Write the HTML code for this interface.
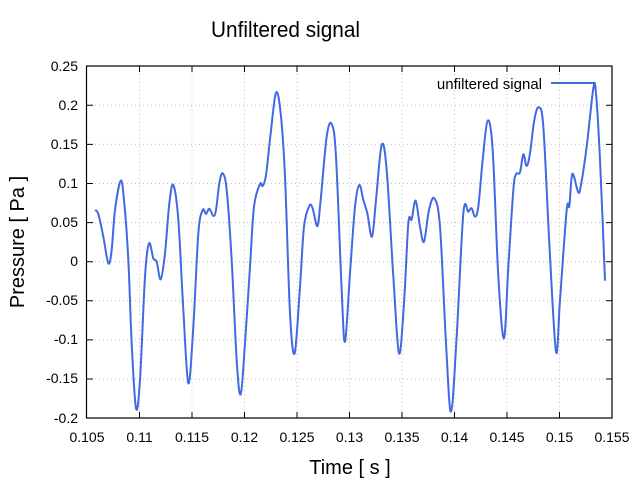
<!DOCTYPE html>
<html><head><meta charset="utf-8"><style>body{margin:0;background:#fff}svg{display:block}</style></head>
<body>
<svg width="640" height="480" xmlns="http://www.w3.org/2000/svg" font-family="Liberation Sans, DejaVu Sans, sans-serif">
<rect width="640" height="480" fill="#fff"/>
<text x="211" y="37" font-size="22" textLength="149" lengthAdjust="spacingAndGlyphs" fill="#000">Unfiltered signal</text>
<g stroke="#c0c0c0" stroke-width="1" stroke-dasharray="1,3">
<line x1="139.5" y1="66" x2="139.5" y2="418"/><line x1="192" y1="66" x2="192" y2="418"/><line x1="244.5" y1="66" x2="244.5" y2="418"/><line x1="297" y1="66" x2="297" y2="418"/><line x1="349.5" y1="66" x2="349.5" y2="418"/><line x1="402" y1="66" x2="402" y2="418"/><line x1="454.5" y1="66" x2="454.5" y2="418"/><line x1="507" y1="66" x2="507" y2="418"/><line x1="559.5" y1="66" x2="559.5" y2="418"/>
<line x1="87" y1="105.3" x2="612" y2="105.3"/><line x1="87" y1="144.4" x2="612" y2="144.4"/><line x1="87" y1="183.5" x2="612" y2="183.5"/><line x1="87" y1="222.6" x2="612" y2="222.6"/><line x1="87" y1="261.7" x2="612" y2="261.7"/><line x1="87" y1="300.8" x2="612" y2="300.8"/><line x1="87" y1="339.9" x2="612" y2="339.9"/><line x1="87" y1="379" x2="612" y2="379"/>
</g>
<g stroke="#000" stroke-width="1">
<path d="M139.5 66v6M192 66v6M244.5 66v6M297 66v6M349.5 66v6M402 66v6M454.5 66v6M507 66v6M559.5 66v6M139.5 418v-6M192 418v-6M244.5 418v-6M297 418v-6M349.5 418v-6M402 418v-6M454.5 418v-6M507 418v-6M559.5 418v-6"/>
<path d="M87 105.3h6M87 144.4h6M87 183.5h6M87 222.6h6M87 261.7h6M87 300.8h6M87 339.9h6M87 379h6M612 105.3h-6M612 144.4h-6M612 183.5h-6M612 222.6h-6M612 261.7h-6M612 300.8h-6M612 339.9h-6M612 379h-6"/>
<rect x="86.5" y="66" width="525.5" height="352" fill="none" stroke-width="1.2"/>
</g>
<g font-size="14" fill="#000" text-anchor="end">
<text x="78" y="71">0.25</text><text x="78" y="110">0.2</text><text x="78" y="149">0.15</text><text x="78" y="188">0.1</text><text x="78" y="227">0.05</text><text x="78" y="266">0</text><text x="78" y="305">-0.05</text><text x="78" y="344">-0.1</text><text x="78" y="383">-0.15</text><text x="78" y="423">-0.2</text>
</g>
<g font-size="14" fill="#000" text-anchor="middle">
<text x="87" y="442">0.105</text><text x="139.5" y="442">0.11</text><text x="192" y="442">0.115</text><text x="244.5" y="442">0.12</text><text x="297" y="442">0.125</text><text x="349.5" y="442">0.13</text><text x="402" y="442">0.135</text><text x="454.5" y="442">0.14</text><text x="507" y="442">0.145</text><text x="559.5" y="442">0.15</text><text x="612" y="442">0.155</text>
</g>
<text x="350" y="474" font-size="20" text-anchor="middle" fill="#000">Time [ s ]</text>
<text transform="translate(24,242) rotate(-90)" font-size="20" text-anchor="middle" fill="#000">Pressure [ Pa ]</text>
<text x="542" y="89" font-size="15" text-anchor="end" fill="#000">unfiltered signal</text>
<line x1="551" y1="83" x2="594" y2="83" stroke="#4169e1" stroke-width="2"/>
<path id="sig" fill="none" stroke="#4169e1" stroke-width="2" stroke-linejoin="round" d=""/>
</svg>
<script>
var a="45,450 55,462 70,530 85,610 95,570 105,450 122,362 132,420 145,600 155,850 168,1045 180,960 195,650 207,550 220,595 230,605 242,658 255,580 268,430 280,375 295,480 310,750 325,970 340,800 355,520 368,450 378,462 388,446 400,468 408,450 418,370 428,340 440,390 455,600 470,900 482,1003 495,850 510,620 522,440 540,372 548,378 558,345 572,220 588,98 602,160 615,350 630,760 644,880 660,680 672,500 688,438 698,445 712,498 722,420 740,230 755,192 768,290 785,690";
var b="15,845 30,640 45,440 58,375 70,420 82,460 96,530 108,420 125,255 140,330 160,650 177,880 192,730 205,490 215,478 227,422 240,500 252,545 267,450 283,415 300,500 318,850 333,1055 350,830 370,460 385,455 395,445 405,470 415,440 428,300 443,182 458,270 475,650 492,835 505,620 520,390 528,343 540,337 550,283 560,318 570,280 583,180 596,142 610,200 628,550 648,875 660,720 680,450 688,438 697,342 714,395 722,380 740,260 760,85 768,100 780,300 795,662";
function conv(s,ox){return s.split(" ").map(function(p){var q=p.split(",");return [ox+q[0]/3,60+q[1]/3];});}
var P=conv(a,80).concat(conv(b,340));
var d="M"+P[0][0].toFixed(2)+" "+P[0][1].toFixed(2);
for(var i=0;i<P.length-1;i++){var p0=P[Math.max(i-1,0)],p1=P[i],p2=P[i+1],p3=P[Math.min(i+2,P.length-1)];
var c1x=p1[0]+(p2[0]-p0[0])/6,c1y=p1[1]+(p2[1]-p0[1])/6,c2x=p2[0]-(p3[0]-p1[0])/6,c2y=p2[1]-(p3[1]-p1[1])/6;
d+=" C"+c1x.toFixed(2)+" "+c1y.toFixed(2)+" "+c2x.toFixed(2)+" "+c2y.toFixed(2)+" "+p2[0].toFixed(2)+" "+p2[1].toFixed(2);}
document.getElementById("sig").setAttribute("d",d);
</script>
</body></html>
